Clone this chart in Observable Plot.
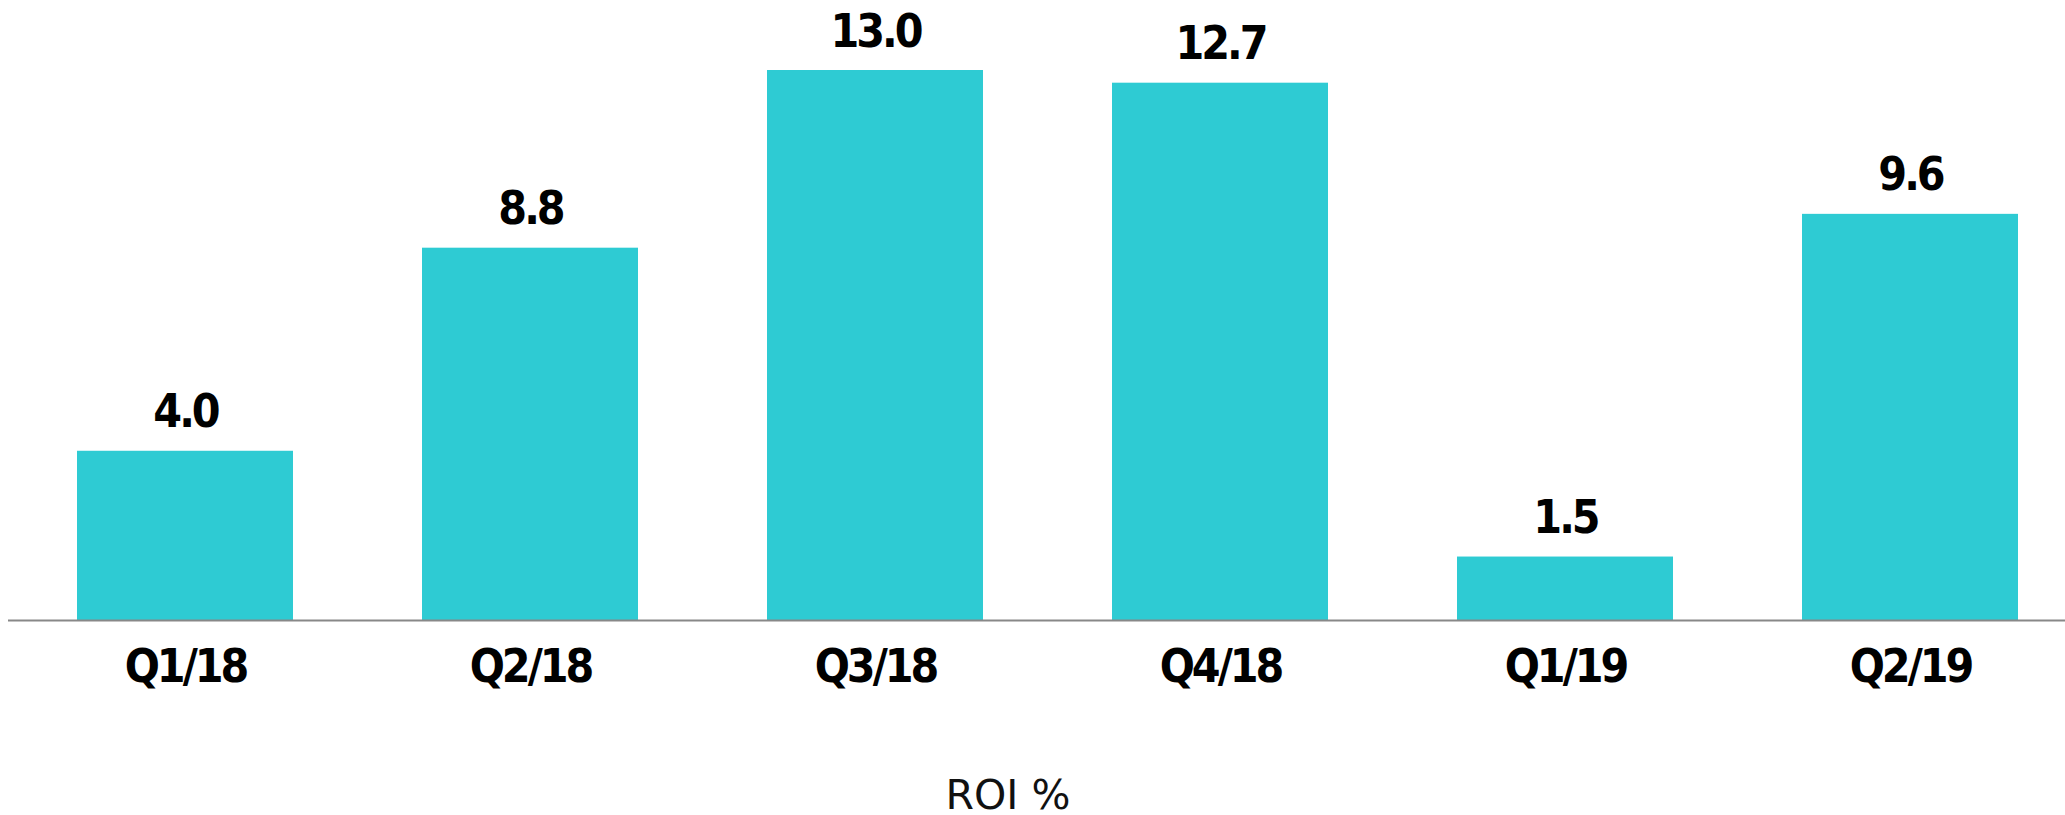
<!DOCTYPE html>
<html>
<head>
<meta charset="utf-8">
<script src="https://cdn.jsdelivr.net/npm/d3@7"></script>
<script src="https://cdn.jsdelivr.net/npm/@observablehq/plot@0.6"></script>
<style>
  html, body { margin: 0; padding: 0; background: #fff; }
  #caption {
    font-family: "DejaVu Sans", sans-serif;
    font-size: 41px;
    line-height: 40px;
    height: 40px;
    text-align: center;
    padding-right: 49px;
    color: #111;
  }
  #chart text { letter-spacing: -3px; }
</style>
</head>
<body>
<div id="chart"></div>
<div id="caption">ROI %</div>
<script>
const quarters = ["Q1/18", "Q2/18", "Q3/18", "Q4/18", "Q1/19", "Q2/19"];
const roi = [4.0, 8.8, 13.0, 12.7, 1.5, 9.6];

const data = quarters.map((q, i) => ({quarter: q, value: roi[i]}));
const labelFont = '"DejaVu Sans Condensed", "DejaVu Sans", sans-serif';

const chart = Plot.plot({
  width: 2065,
  height: 775,
  marginLeft: 8,
  marginRight: 0,
  marginTop: 70,
  marginBottom: 155,
  style: {background: "#fff"},
  x: {type: "band", domain: quarters, range: [11, 2083], paddingInner: 0.374, paddingOuter: 0.187, align: 0.5},
  y: {domain: [0, 13], axis: null},
  marks: [
    Plot.barY(data, {x: "quarter", y: "value", fill: "#2ecbd3"}),
    Plot.ruleY([0], {stroke: "#888", strokeWidth: 2}),
    Plot.text(data, {
      x: "quarter", y: "value", text: d => d.value.toFixed(1),
      lineAnchor: "bottom", dy: -24,
      fontSize: 46, fontWeight: "bold", fontFamily: labelFont, fill: "#000"
    }),
    Plot.axisX({
      tickSize: 0, tickPadding: 29, label: null,
      fontSize: 46, fontWeight: "bold", fontFamily: labelFont, fill: "#000"
    })
  ]
});
document.getElementById("chart").append(chart);
</script>
</body>
</html>
